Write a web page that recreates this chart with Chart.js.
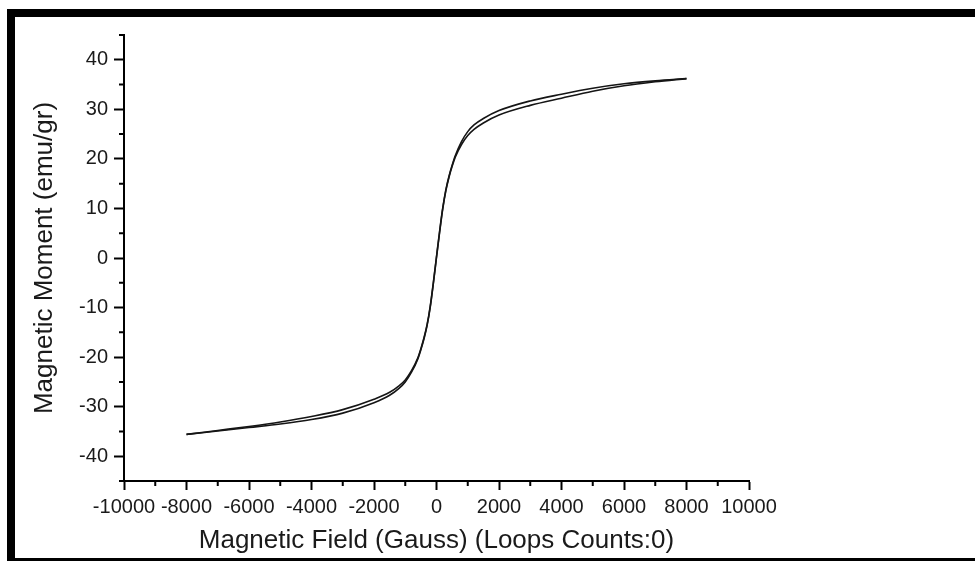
<!DOCTYPE html>
<html>
<head>
<meta charset="utf-8">
<script src="https://cdn.jsdelivr.net/npm/chart.js@4/dist/chart.umd.min.js"></script>
<style>
    body { margin: 0; background: #fff; }
    #frame {
        position: absolute;
        left: 7px;
        top: 9px;
        width: 960px;
        height: 541px;
        border-left: 8px solid #000;
        border-top: 8px solid #000;
        border-bottom: 3px solid #000;
    }
    canvas { display: block; }
</style>
</head>
<body>
<div id="frame"><canvas id="loopChart" width="960" height="541"></canvas></div>
<script>
// hysteresis loop
const fieldGauss = [-8000, -7000, -6000, -5000, -4000, -3000, -2000, -1500, -1200, -1000, -800, -600, -500, -400, -300, -200, -100, 0, 100, 200, 300, 400, 500, 600, 800, 1000, 1200, 1500, 2000, 3000, 4000, 5000, 6000, 7000, 8000];
const momentAscending = [-35.6, -34.9, -34.2, -33.5, -32.6, -31.3, -29.2, -27.7, -26.3, -25.0, -23.05, -20.4, -18.5, -16.3, -13.6, -9.9, -5.1, 0.1, 5.2, 9.9, 13.6, 16.3, 18.5, 20.35, 22.9, 24.7, 25.95, 27.25, 28.85, 30.8, 32.25, 33.65, 34.75, 35.55, 36.2];
const momentDescending = [-35.6, -34.8, -34.0, -33.1, -32.0, -30.6, -28.5, -27.1, -25.8, -24.6, -22.75, -20.2, -18.3, -16.1, -13.4, -9.7, -4.9, 0.3, 5.4, 10.1, 13.8, 16.5, 18.7, 20.65, 23.5, 25.5, 26.85, 28.15, 29.75, 31.7, 33.05, 34.25, 35.15, 35.75, 36.2];

const xMajorTicks = [-10000, -8000, -6000, -4000, -2000, 0, 2000, 4000, 6000, 8000, 10000];
const xMinorTicks = [-9000, -7000, -5000, -3000, -1000, 1000, 3000, 5000, 7000, 9000];
const yMajorTicks = [-40, -30, -20, -10, 0, 10, 20, 30, 40];
const yMinorTicks = [-45, -35, -25, -15, -5, 5, 15, 25, 35, 45];

const toPoints = (ys) => fieldGauss.map((x, i) => ({ x: x, y: ys[i] }));

const textColor = '#1a1a1a';
const tickFont = { family: 'Liberation Sans', size: 20 };
const titleFont = { family: 'Liberation Sans', size: 26 };

const minorTicks = {
    id: 'minorTicks',
    afterDraw(chart) {
        const { ctx, chartArea, scales } = chart;
        ctx.save();
        ctx.strokeStyle = '#000';
        ctx.lineWidth = 2;
        ctx.beginPath();
        xMinorTicks.forEach(v => {
            const px = scales.x.getPixelForValue(v);
            ctx.moveTo(px, chartArea.bottom);
            ctx.lineTo(px, chartArea.bottom + 5);
        });
        yMinorTicks.forEach(v => {
            const py = scales.y.getPixelForValue(v);
            ctx.moveTo(chartArea.left - 5, py);
            ctx.lineTo(chartArea.left, py);
        });
        ctx.stroke();
        ctx.restore();
    }
};

new Chart(document.getElementById('loopChart'), {
    type: 'scatter',
    data: {
        datasets: [
            {
                label: 'ascending',
                data: toPoints(momentAscending),
                showLine: true,
                borderColor: '#151515',
                borderWidth: 1.6,
                pointRadius: 0,
                cubicInterpolationMode: 'monotone',
            },
            {
                label: 'descending',
                data: toPoints(momentDescending),
                showLine: true,
                borderColor: '#151515',
                borderWidth: 1.6,
                pointRadius: 0,
                cubicInterpolationMode: 'monotone',
            },
        ],
    },
    options: {
        responsive: false,
        animation: false,
        layout: { padding: { top: 11, right: 226, left: 0, bottom: 0 } },
        plugins: {
            legend: { display: false },
            tooltip: { enabled: false },
        },
        scales: {
            x: {
                type: 'linear',
                min: -10000,
                max: 10000,
                afterBuildTicks: (scale) => { scale.ticks = xMajorTicks.map(v => ({ value: v })); },
                afterFit: (scale) => { scale.height = 77; },
                border: { color: '#000', width: 2 },
                grid: { drawOnChartArea: false, tickLength: 9, tickWidth: 2, tickColor: '#000' },
                ticks: {
                    color: textColor,
                    font: tickFont,
                    padding: 5,
                    maxRotation: 0,
                    autoSkip: false,
                    callback: (value) => String(value),
                },
                title: {
                    display: true,
                    text: 'Magnetic Field (Gauss) (Loops Counts:0)',
                    color: textColor,
                    font: titleFont,
                    padding: { top: 0, bottom: 2 },
                },
            },
            y: {
                type: 'linear',
                min: -45,
                max: 45,
                afterBuildTicks: (scale) => { scale.ticks = yMajorTicks.map(v => ({ value: v })); },
                afterFit: (scale) => { scale.width = 109; },
                border: { color: '#000', width: 2 },
                grid: { drawOnChartArea: false, tickLength: 10, tickWidth: 2, tickColor: '#000' },
                ticks: { color: textColor, font: tickFont, padding: 6, callback: (value) => String(value) },
                title: {
                    display: true,
                    text: 'Magnetic Moment (emu/gr)',
                    color: textColor,
                    font: titleFont,
                    padding: { top: 14, bottom: 0 },
                },
            },
        },
    },
    plugins: [minorTicks],
});
</script>
</body>
</html>
